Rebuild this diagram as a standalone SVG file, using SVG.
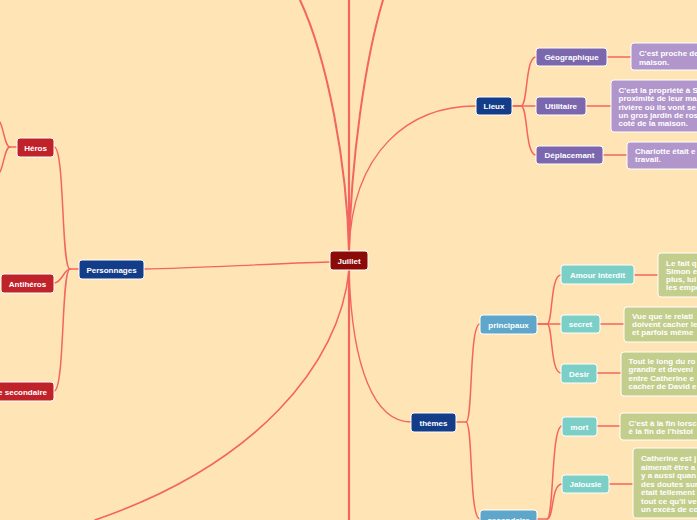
<svg xmlns="http://www.w3.org/2000/svg" width="697" height="520" viewBox="0 0 697 520">
<style>
.bg{fill:#FFE5B6}
.c{fill:none;stroke:#F26560;stroke-linecap:round}
.t{font-family:"Liberation Sans",Arial,sans-serif;font-weight:bold;font-size:8px;fill:#fff}
.m{text-anchor:middle}
.n rect{stroke:#fff;stroke-width:1}
.root{fill:#8A0B07}
.navy{fill:#133D89}
.purple{fill:#7B67AE}
.lav{fill:#B096CA}
.red{fill:#BF2229}
.steel{fill:#5EA6CA}
.teal{fill:#7BCFC7}
.green{fill:#C3CE8C}
</style>
<rect class="bg" x="0" y="0" width="697" height="520"/>
<g id="connectors">
<path class="c" stroke-width="2.2" d="M349,0 V520"/>
<path class="c" stroke-width="2" d="M349,251 C347,165 328,60 300,0"/>
<path class="c" stroke-width="2" d="M349,251 C351,160 365,60 383,0"/>
<path class="c" stroke-width="1.4" d="M349,251 C352,150 410,106 476,106"/>
<path class="c" stroke-width="1.4" d="M349,270 C352,370 375,422 411,422"/>
<path class="c" stroke-width="1.6" d="M349,270 C340,365 255,465 95,520"/>
<path class="c" stroke-width="1.3" d="M330,262 C260,264 200,268 144,269"/>
<path class="c" stroke-width="1.5" d="M512,106 H521 C528,106 525,57 536,57"/>
<path class="c" stroke-width="1.5" d="M512,106 H536"/>
<path class="c" stroke-width="1.5" d="M521,106 C528,106 525,155 536,155"/>
<path class="c" stroke-width="1.5" d="M607,57 H631"/>
<path class="c" stroke-width="1.5" d="M586,106 H611"/>
<path class="c" stroke-width="1.5" d="M603,155 H627"/>
<path class="c" stroke-width="1.5" d="M79,269 H70 C61,269 65,147 54,147"/>
<path class="c" stroke-width="1.5" d="M70,269 C64,269 62,283 54,283"/>
<path class="c" stroke-width="1.5" d="M70,269 C61,269 65,391 54,391"/>
<path class="c" stroke-width="1.5" d="M17,147 H10 C5,147 4,130 0,122"/>
<path class="c" stroke-width="1.5" d="M10,147 C5,147 4,164 0,172"/>
<path class="c" stroke-width="1.5" d="M456,422 H466 C473,422 469,324 480,324"/>
<path class="c" stroke-width="1.5" d="M466,422 C473,422 469,519 480,519"/>
<path class="c" stroke-width="1.5" d="M537,324 H547 C553,324 550,275 561,275"/>
<path class="c" stroke-width="1.5" d="M537,324 H561"/>
<path class="c" stroke-width="1.5" d="M547,324 C553,324 550,373 561,373"/>
<path class="c" stroke-width="1.5" d="M537,519 H547 C554,519 551,426 562,426"/>
<path class="c" stroke-width="1.5" d="M547,519 C554,519 551,484 562,484"/>
<path class="c" stroke-width="1.5" d="M634,275 H658"/>
<path class="c" stroke-width="1.5" d="M600,324 H624"/>
<path class="c" stroke-width="1.5" d="M597,373 H621"/>
<path class="c" stroke-width="1.5" d="M597,426 H620"/>
<path class="c" stroke-width="1.5" d="M609,484 H633"/>
</g>
<g id="juillet" class="n"><rect class="root" x="330" y="251" width="38" height="19" rx="3"/><text class="t m" x="349" y="263.5">Juillet</text></g>
<g id="lieux" class="n"><rect class="navy" x="476" y="97" width="36" height="18" rx="3"/><text class="t m" x="494" y="109">Lieux</text></g>
<g id="geographique" class="n"><rect class="purple" x="536" y="48" width="71" height="18" rx="3"/><text class="t m" x="571.5" y="60">Géographique</text></g>
<g id="utilitaire" class="n"><rect class="purple" x="536" y="97" width="50" height="18" rx="3"/><text class="t m" x="561" y="109">Utilitaire</text></g>
<g id="deplacemant" class="n"><rect class="purple" x="536" y="146" width="67" height="18" rx="3"/><text class="t m" x="569.5" y="158">Déplacemant</text></g>
<g id="geo-text" class="n"><rect class="lav" x="631" y="43" width="120" height="27" rx="3"/><text class="t" x="639" y="55.5">C'est proche de</text><text class="t" x="639" y="64.5">maison.</text></g>
<g id="util-text" class="n"><rect class="lav" x="611" y="80" width="120" height="52" rx="3"/><text class="t" x="618.5" y="93">C'est la propriété à S</text><text class="t" x="618.5" y="101.3">proximité de leur ma</text><text class="t" x="618.5" y="109.6">rivière où ils vont se</text><text class="t" x="618.5" y="117.9">un gros jardin de ros</text><text class="t" x="618.5" y="126.2">coté de la maison.</text></g>
<g id="depl-text" class="n"><rect class="lav" x="627" y="142" width="120" height="27" rx="3"/><text class="t" x="635" y="153.5">Charlotte était e</text><text class="t" x="635" y="162">travail.</text></g>
<g id="personnages" class="n"><rect class="navy" x="79" y="260" width="65" height="19" rx="3"/><text class="t m" x="111.5" y="272.5">Personnages</text></g>
<g id="heros" class="n"><rect class="red" x="17" y="138" width="37" height="19" rx="3"/><text class="t m" x="35.5" y="150.5">Héros</text></g>
<g id="antiheros" class="n"><rect class="red" x="1" y="274" width="53" height="19" rx="3"/><text class="t m" x="27.5" y="286.5">Antihéros</text></g>
<g id="perso-secondaire" class="n"><rect class="red" x="-90" y="382" width="144" height="19" rx="3"/><text class="t" text-anchor="end" x="47" y="394.5">Personnage secondaire</text></g>
<g id="themes" class="n"><rect class="navy" x="411" y="413" width="45" height="19" rx="3"/><text class="t m" x="433.5" y="425.5">thèmes</text></g>
<g id="principaux" class="n"><rect class="steel" x="480" y="315" width="57" height="19" rx="3"/><text class="t m" x="508.5" y="327.5">principaux</text></g>
<g id="secondaire" class="n"><rect class="steel" x="480" y="510" width="57" height="19" rx="3"/><text class="t m" x="508.5" y="522.5">secondaire</text></g>
<g id="amour" class="n"><rect class="teal" x="561" y="265" width="73" height="19" rx="3"/><text class="t m" x="597.5" y="277.5">Amour Interdit</text></g>
<g id="secret" class="n"><rect class="teal" x="561" y="315" width="39" height="18" rx="3"/><text class="t m" x="580.5" y="327">secret</text></g>
<g id="desir" class="n"><rect class="teal" x="561" y="364" width="36" height="19" rx="3"/><text class="t m" x="579" y="376.5">Désir</text></g>
<g id="mort" class="n"><rect class="teal" x="562" y="417" width="35" height="19" rx="3"/><text class="t m" x="579.5" y="429.5">mort</text></g>
<g id="jalousie" class="n"><rect class="teal" x="562" y="475" width="47" height="18" rx="3"/><text class="t m" x="585.5" y="487">Jalousie</text></g>
<g id="amour-text" class="n"><rect class="green" x="658" y="253" width="120" height="44" rx="3"/><text class="t" x="666" y="265.5">Le fait q</text><text class="t" x="666" y="273.8">Simon e</text><text class="t" x="666" y="282.1">plus, lui</text><text class="t" x="666" y="290.4">les empe</text></g>
<g id="secret-text" class="n"><rect class="green" x="624" y="307" width="120" height="35" rx="3"/><text class="t" x="632" y="319">Vue que le relati</text><text class="t" x="632" y="327.2">doivent cacher le</text><text class="t" x="632" y="335.4">et parfois même</text></g>
<g id="desir-text" class="n"><rect class="green" x="621" y="352" width="120" height="44" rx="3"/><text class="t" x="628.5" y="364">Tout le long du ro</text><text class="t" x="628.5" y="372.3">grandir et deveni</text><text class="t" x="628.5" y="380.6">entre Catherine e</text><text class="t" x="628.5" y="388.9">cacher de David e</text></g>
<g id="mort-text" class="n"><rect class="green" x="620" y="413" width="120" height="27" rx="3"/><text class="t" x="628.5" y="425.5">C'est à la fin lorsc</text><text class="t" x="628.5" y="433.7">è la fin de l'histoi</text></g>
<g id="jalousie-text" class="n"><rect class="green" x="633" y="448" width="120" height="70" rx="3"/><text class="t" x="641" y="461">Catherine est j</text><text class="t" x="641" y="469.5">aimerait être a</text><text class="t" x="641" y="478">y a aussi quan</text><text class="t" x="641" y="486.5">des doutes sur</text><text class="t" x="641" y="495">était tellement</text><text class="t" x="641" y="503.5">tout ce qu'il ve</text><text class="t" x="641" y="512">un excès de co</text></g>
</svg>
